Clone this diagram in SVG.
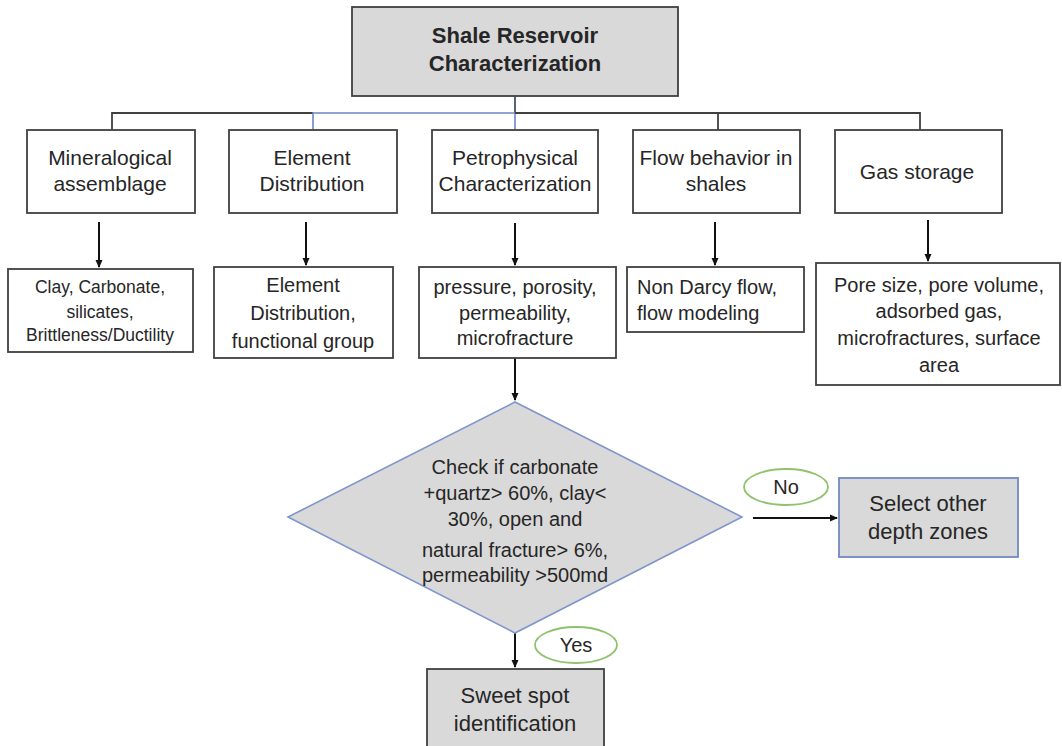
<svg xmlns="http://www.w3.org/2000/svg" width="1062" height="746" viewBox="0 0 1062 746">
<defs>
<marker id="ah" markerWidth="8" markerHeight="8" refX="7" refY="4" orient="auto" markerUnits="userSpaceOnUse">
<path d="M0,0.5 L8,4 L0,7.5 Z" fill="#111"/>
</marker>
<style>
text{font-family:"Liberation Sans",Arial,sans-serif;fill:#262626;text-anchor:middle}
.box{fill:#fff;stroke:#404040;stroke-width:1.8}
.gbox{fill:#d9d9d9;stroke:#404040;stroke-width:1.8}
.bbox{fill:#d9d9d9;stroke:#7189c4;stroke-width:1.8}
.t21{font-size:21px}
.t20{font-size:20px}
.t18{font-size:17.5px}
.t22{font-size:22px}
.bold{font-weight:bold}
.bus{fill:none;stroke:#404040;stroke-width:1.8}
.busb{fill:none;stroke:#6d86c2;stroke-width:1.6}
.arr{stroke:#111;stroke-width:2;fill:none;marker-end:url(#ah)}
.pill{fill:#fff;stroke:#8fc26b;stroke-width:1.8}
</style>
</defs>
<rect width="1062" height="746" fill="#fff"/>

<g id="connectors">
<line class="bus" x1="515" y1="96" x2="515" y2="113" style="stroke:#44546a"/>
<polyline class="bus" points="112,130 112,113 313,113"/>
<polyline class="busb" points="313,130 313,113 515,113 515,130"/>
<polyline class="bus" points="515,113 920,113 920,130"/>
<line class="bus" x1="718" y1="113" x2="718" y2="130"/>
<line class="arr" x1="99" y1="222" x2="99" y2="267"/>
<line class="arr" x1="306" y1="222" x2="306" y2="265"/>
<line class="arr" x1="515" y1="223" x2="515" y2="265"/>
<line class="arr" x1="715" y1="222" x2="715" y2="265"/>
<line class="arr" x1="928" y1="220" x2="928" y2="261"/>
<line class="arr" x1="515" y1="358" x2="515" y2="400"/>
<line class="arr" x1="515" y1="633" x2="515" y2="667"/>
<line class="arr" x1="753" y1="518" x2="837" y2="518"/>
</g>

<g id="top">
<rect class="gbox" x="352" y="7" width="326" height="89"/>
<text class="t22 bold" x="515" y="43">Shale Reservoir</text>
<text class="t22 bold" x="515" y="71">Characterization</text>
</g>

<g id="mineral">
<rect class="box" x="27" y="130" width="168" height="83"/>
<text class="t21" x="110" y="165">Mineralogical</text>
<text class="t21" x="110" y="191">assemblage</text>
</g>
<g id="element">
<rect class="box" x="229" y="130" width="168" height="83"/>
<text class="t21" x="312" y="165">Element</text>
<text class="t21" x="312" y="191">Distribution</text>
</g>
<g id="petro">
<rect class="box" x="432" y="130" width="166" height="83"/>
<text class="t21" x="515" y="165">Petrophysical</text>
<text class="t21" x="515" y="191">Characterization</text>
</g>
<g id="flow">
<rect class="box" x="633" y="130" width="167" height="83"/>
<text class="t21" x="716" y="165">Flow behavior in</text>
<text class="t21" x="716" y="191">shales</text>
</g>
<g id="gas">
<rect class="box" x="835" y="130" width="167" height="83"/>
<text class="t21" x="917" y="179">Gas storage</text>
</g>

<g id="mineral-detail">
<rect class="box" x="8" y="269" width="185" height="83"/>
<text class="t18" x="100" y="293">Clay, Carbonate,</text>
<text class="t18" x="100" y="318">silicates,</text>
<text class="t18" x="100" y="341">Brittleness/Ductility</text>
</g>
<g id="element-detail">
<rect class="box" x="214" y="267" width="179" height="91"/>
<text class="t20" x="303" y="292">Element</text>
<text class="t20" x="303" y="320">Distribution,</text>
<text class="t20" x="303" y="348">functional group</text>
</g>
<g id="petro-detail">
<rect class="box" x="419" y="267" width="197" height="91"/>
<text class="t20" x="515" y="294">pressure, porosity,</text>
<text class="t20" x="515" y="320">permeability,</text>
<text class="t20" x="515" y="345">microfracture</text>
</g>
<g id="flow-detail">
<rect class="box" x="627" y="267" width="177" height="65"/>
<text class="t20" x="637" y="294" style="text-anchor:start">Non Darcy flow,</text>
<text class="t20" x="637" y="320" style="text-anchor:start">flow modeling</text>
</g>
<g id="gas-detail">
<rect class="box" x="816" y="263" width="244" height="122"/>
<text class="t20" x="939" y="292">Pore size, pore volume,</text>
<text class="t20" x="939" y="318">adsorbed gas,</text>
<text class="t20" x="939" y="345">microfractures, surface</text>
<text class="t20" x="939" y="372">area</text>
</g>

<g id="decision">
<polygon points="515,402 742,517 515,633 288,517" fill="#d9d9d9" stroke="#7f96cc" stroke-width="1.6"/>
<text class="t20" x="515" y="474">Check if carbonate</text>
<text class="t20" x="515" y="500">+quartz&gt; 60%, clay&lt;</text>
<text class="t20" x="515" y="526">30%, open and</text>
<text class="t20" x="515" y="557">natural fracture&gt; 6%,</text>
<text class="t20" x="515" y="582">permeability &gt;500md</text>
</g>

<g id="no-label">
<ellipse class="pill" cx="786" cy="487" rx="42" ry="18"/>
<text class="t20" x="786" y="494">No</text>
</g>
<g id="select">
<rect class="bbox" x="839" y="478" width="179" height="79"/>
<text class="t22" x="928" y="511">Select other</text>
<text class="t22" x="928" y="539">depth zones</text>
</g>

<g id="yes-label">
<ellipse class="pill" cx="576" cy="645" rx="41" ry="18"/>
<text class="t20" x="576" y="652">Yes</text>
</g>
<g id="sweet">
<rect class="gbox" x="427" y="669" width="177" height="90"/>
<text class="t22" x="515" y="703">Sweet spot</text>
<text class="t22" x="515" y="731">identification</text>
</g>
</svg>
